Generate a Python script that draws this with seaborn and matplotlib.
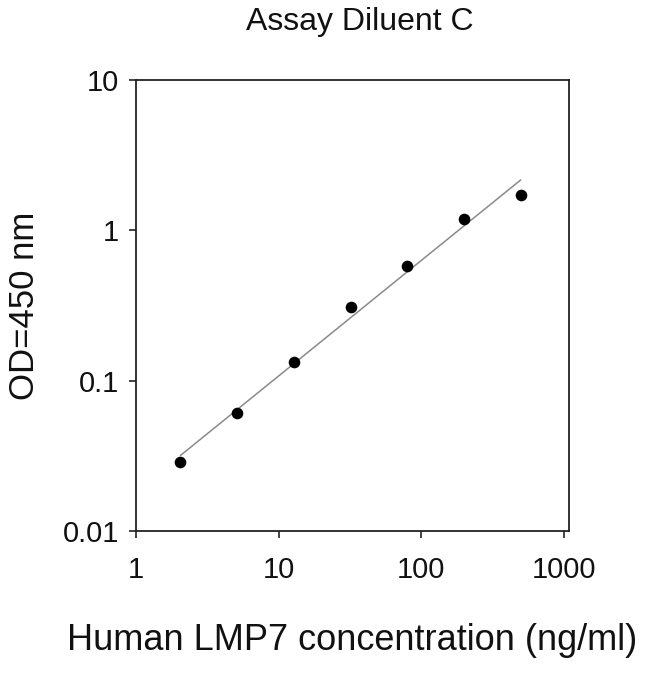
import numpy as np
import pandas as pd
import matplotlib
matplotlib.use("Agg")
import matplotlib.pyplot as plt
import seaborn as sns
from matplotlib.ticker import FixedLocator, FixedFormatter, NullLocator

# Data
concentration = [2.048, 5.12, 12.8, 32.0, 80.0, 200.0, 500.0]
od450 = [0.0286, 0.0612, 0.1325, 0.308, 0.582, 1.196, 1.713]
x_ticks = [1, 10, 100, 1000]
x_tick_labels = ["1", "10", "100", "1000"]
y_ticks = [0.01, 0.1, 1, 10]
y_tick_labels = ["0.01", "0.1", "1", "10"]

sns.set_style("ticks")
plt.rcParams["font.family"] = ["Liberation Sans", "DejaVu Sans"]

df = pd.DataFrame({"conc": concentration, "od": od450})

# log-log linear fit (standard curve)
slope, intercept = np.polyfit(np.log10(df["conc"]), np.log10(df["od"]), 1)
fit = pd.DataFrame({"conc": [min(concentration), max(concentration)]})
fit["od"] = 10 ** (intercept + slope * np.log10(fit["conc"]))

fig = plt.figure(figsize=(6.5, 6.74), dpi=100)
ax = fig.add_axes([0.2092, 0.2122, 0.6662, 0.6691])

sns.lineplot(data=fit, x="conc", y="od", ax=ax, color="#8a8a8a", linewidth=1.1)
sns.scatterplot(data=df, x="conc", y="od", ax=ax, color="black", s=70,
                edgecolor="black", linewidth=0, zorder=3)

ax.set_xscale("log")
ax.set_yscale("log")
ax.set_xlim(1, 1090)
ax.set_ylim(0.01, 10)
ax.xaxis.set_major_locator(FixedLocator(x_ticks))
ax.xaxis.set_major_formatter(FixedFormatter(x_tick_labels))
ax.yaxis.set_major_locator(FixedLocator(y_ticks))
ax.yaxis.set_major_formatter(FixedFormatter(y_tick_labels))
ax.xaxis.set_minor_locator(NullLocator())
ax.yaxis.set_minor_locator(NullLocator())

for sp in ax.spines.values():
    sp.set_visible(True)
    sp.set_color("#222222")
    sp.set_linewidth(1.3)

ax.tick_params(axis="both", direction="out", length=5, width=1.2, color="#222222",
               labelsize=21, labelcolor="#111111")
ax.tick_params(axis="x", pad=13)
ax.tick_params(axis="y", pad=7)

ax.set_xlabel("Human LMP7 concentration (ng/ml)", fontsize=26, color="#111111", labelpad=28)
ax.set_ylabel("OD=450 nm", fontsize=25, color="#111111", labelpad=16)
fig.text(0.554, 0.967, "Assay Diluent C", ha="center", va="center", fontsize=23, color="#111111")

fig.savefig("out.png", dpi=100)
